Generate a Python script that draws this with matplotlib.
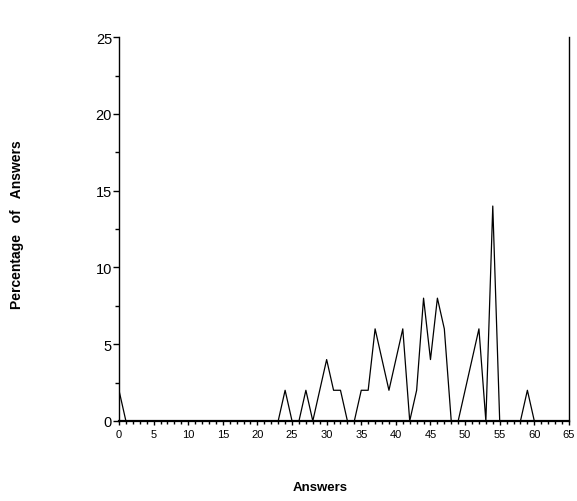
import matplotlib.pyplot as plt
import numpy as np
from matplotlib.ticker import MultipleLocator

plt.rcParams['font.family'] = ['Liberation Sans', 'DejaVu Sans']

# answers 0..60 and percentage of answers
answers = list(range(0, 61))
percent = [2, 0, 0, 0, 0, 0, 0, 0, 0, 0,
           0, 0, 0, 0, 0, 0, 0, 0, 0, 0,
           0, 0, 0, 0, 2, 0, 0, 2, 0, 2,
           4, 2, 2, 0, 0, 2, 2, 6, 4, 2,
           4, 6, 0, 2, 8, 4, 8, 6, 0, 0,
           2, 4, 6, 0, 14, 0, 0, 0, 0, 2,
           0]

fig = plt.figure(figsize=(5.77, 5.02), dpi=100)
ax = fig.add_axes([0.2062, 0.1594, 0.7798, 0.7646])

ax.plot(answers, percent, color='black', linewidth=0.9)

ax.set_xlim(0, 65)
ax.set_ylim(0, 25)
ax.spines['top'].set_visible(False)
ax.spines['left'].set_linewidth(1.0)
ax.spines['bottom'].set_linewidth(1.6)
ax.spines['right'].set_linewidth(1.0)

ax.xaxis.set_major_locator(MultipleLocator(5))
ax.xaxis.set_minor_locator(MultipleLocator(1))
ax.yaxis.set_major_locator(MultipleLocator(5))
ax.yaxis.set_minor_locator(MultipleLocator(2.5))
ax.tick_params(axis='x', which='major', length=3, width=1, labelsize=8, pad=3)
ax.tick_params(axis='x', which='minor', length=2, width=1)
ax.tick_params(axis='y', which='major', length=4, width=1, labelsize=10.5, pad=1)
ax.tick_params(axis='y', which='minor', length=3, width=1)

fig.text(0.03, 0.553, 'Percentage   of   Answers', rotation=90, ha='center', va='center',
         fontsize=10, fontweight='bold')
fig.text(0.555, 0.028, 'Answers', ha='center', va='center', fontsize=9.5, fontweight='bold')

fig.savefig('out.png', dpi=100)
